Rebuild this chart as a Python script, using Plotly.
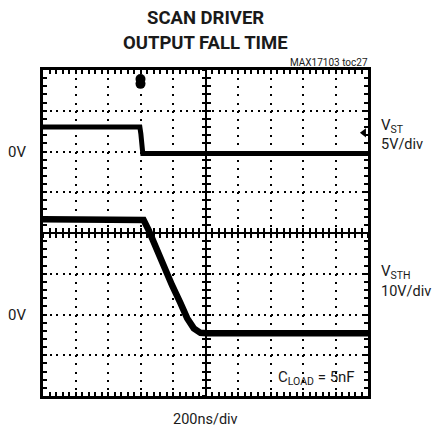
import plotly.graph_objects as go

# ---- data (read from the scope capture) ----
time_ch1_ns = [0, 596, 602, 608, 614, 2000]
v_st = [3.0, 3.0, 2.2, 0.6, -0.25, -0.25]

time_ch2_ns = [0, 600, 619, 650, 691, 743, 794, 846, 887, 928, 969, 1010, 2000]
v_sth = [23.4, 23.4, 23.2, 20.7, 16.6, 11.7, 7.2, 2.8, -0.9, -3.4, -4.5, -4.6, -4.6]

trigger_time_ns = 600
trigger_level_v = 2.3
trigger_marker_time_ns = 1975

# scope settings
time_per_div_ns = 200
ch1_v_per_div, ch1_zero_div = 5, 6
ch2_v_per_div, ch2_zero_div = 10, 2
n_xdiv, n_ydiv = 10, 8
subdiv = 5

ch1_range = [-ch1_zero_div * ch1_v_per_div, (n_ydiv - ch1_zero_div) * ch1_v_per_div]
ch2_range = [-ch2_zero_div * ch2_v_per_div, (n_ydiv - ch2_zero_div) * ch2_v_per_div]
x_range = [0, n_xdiv * time_per_div_ns]

W, H = 432, 430
L, R, T, B = 43, 64, 70, 34
pw, ph = W - L - R, H - T - B


def px(x):
    return (x - L) / pw


def py(y):
    return (H - B - y) / ph


FONT = "Roboto, Liberation Sans, sans-serif"

fig = go.Figure()

fig.add_trace(go.Scatter(x=time_ch2_ns, y=v_sth, mode="lines", yaxis="y2",
                         line=dict(color="black", width=6.5), showlegend=False, hoverinfo="skip"))
fig.add_trace(go.Scatter(x=time_ch1_ns, y=v_st, mode="lines",
                         line=dict(color="black", width=5), showlegend=False, hoverinfo="skip"))
# trigger markers
fig.add_trace(go.Scatter(x=[trigger_time_ns, trigger_time_ns], y=[8.3, 8.9], mode="markers",
                         marker=dict(symbol="circle", size=10, color="black"),
                         showlegend=False, hoverinfo="skip"))
fig.add_trace(go.Scatter(x=[trigger_marker_time_ns], y=[trigger_level_v], mode="markers",
                         marker=dict(symbol="triangle-left", size=8, color="black"),
                         showlegend=False, hoverinfo="skip"))

tick_axes_x = ["x2", "x3", "x4", "x5"]
tick_axes_y = ["y3", "y4", "y5", "y6"]
for xa in tick_axes_x:
    fig.add_trace(go.Scatter(x=[None], y=[None], xaxis=xa, yaxis="y", showlegend=False,
                             hoverinfo="skip"))
for ya in tick_axes_y:
    fig.add_trace(go.Scatter(x=[None], y=[None], xaxis="x", yaxis=ya, showlegend=False,
                             hoverinfo="skip"))

TC = "black"
x_sub = time_per_div_ns / subdiv
y_sub = ch1_v_per_div / subdiv
base = dict(showticklabels=False, zeroline=False, tickcolor=TC, tickwidth=2, showgrid=False,
            tick0=0)


def xtick_axis(**kw):
    d = dict(range=x_range, overlaying="x", dtick=x_sub, **base)
    d.update(kw)
    return d


def ytick_axis(**kw):
    d = dict(range=ch1_range, overlaying="y", dtick=y_sub, **base)
    d.update(kw)
    return d


fig.update_layout(
    width=W, height=H,
    margin=dict(l=L, r=R, t=T, b=B),
    paper_bgcolor="white", plot_bgcolor="white",
    xaxis=dict(range=x_range, dtick=time_per_div_ns, tick0=0, showgrid=True, gridcolor="black",
               gridwidth=2, griddash="2px,6.15px", showline=True, linecolor="black", linewidth=3,
               mirror=True, ticks="", showticklabels=False, zeroline=False),
    yaxis=dict(range=ch1_range, dtick=ch1_v_per_div, tick0=0, showgrid=True, gridcolor="black",
               gridwidth=2, griddash="2px,4.5px", showline=True, linecolor="black", linewidth=3,
               mirror=True, ticks="", showticklabels=False, zeroline=False),
    yaxis2=dict(range=ch2_range, overlaying="y", visible=False),
    # centre cross with ticks
    xaxis2=xtick_axis(anchor="free", position=0.5, showline=True, linecolor="black",
                      linewidth=2, ticks="inside", ticklen=4),
    xaxis3=xtick_axis(anchor="free", position=0.5, showline=False, ticks="outside", ticklen=4),
    yaxis3=ytick_axis(anchor="free", position=0.5, showline=True, linecolor="black",
                      linewidth=2, ticks="inside", ticklen=4),
    yaxis4=ytick_axis(anchor="free", position=0.5, showline=False, ticks="outside", ticklen=4),
    # border ticks
    xaxis4=xtick_axis(side="bottom", ticks="inside", ticklen=4),
    xaxis5=xtick_axis(side="top", ticks="inside", ticklen=4),
    yaxis5=ytick_axis(side="left", ticks="inside", ticklen=4),
    yaxis6=ytick_axis(side="right", ticks="inside", ticklen=4),
)

ann = []
ann.append(dict(text="<b>SCAN DRIVER</b>", x=px(205), y=py(18), font=dict(size=18.5)))
ann.append(dict(text="<b>OUTPUT FALL TIME</b>", x=px(205), y=py(43), font=dict(size=18.5)))
ann.append(dict(text="MAX17103 toc27", x=px(370), y=py(63), xanchor="right", font=dict(size=10)))
ann.append(dict(text="0V", x=px(28), y=0, yref="y", xanchor="right", font=dict(size=15)))
ann.append(dict(text="0V", x=px(28), y=0, yref="y2", xanchor="right", font=dict(size=15)))
ann.append(dict(text="V<sub>ST</sub>", x=px(379), y=py(126), xanchor="left", font=dict(size=15)))
ann.append(dict(text="5V/div", x=px(379), y=py(144), xanchor="left", font=dict(size=14.5)))
ann.append(dict(text="V<sub>STH</sub>", x=px(379), y=py(272), xanchor="left", font=dict(size=15)))
ann.append(dict(text="10V/div", x=px(379), y=py(291), xanchor="left", font=dict(size=14.5)))
ann.append(dict(text="C<sub>LOAD</sub> = 5nF", x=px(357), y=py(378), xanchor="right",
                font=dict(size=15)))
ann.append(dict(text="200ns/div", x=px(205), y=py(419), font=dict(size=14.5)))

for a in ann:
    a.setdefault("xref", "paper")
    a.setdefault("yref", "paper")
    a.setdefault("xanchor", "center")
    a["yanchor"] = "middle"
    a["showarrow"] = False
    a["font"] = dict(family=FONT, color="#1a1a1a", **a["font"])
fig.update_layout(annotations=ann)

fig.write_html("out.html", config={"displayModeBar": False},
               post_script="document.body.style.margin='0px';")
